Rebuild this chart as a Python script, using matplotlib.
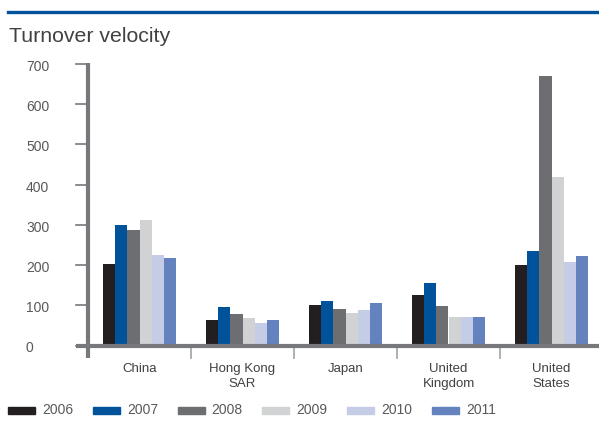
import matplotlib
matplotlib.use("Agg")
import matplotlib.pyplot as plt
import numpy as np
from matplotlib.patches import Rectangle
from matplotlib.lines import Line2D

plt.rcParams['font.family'] = ['Liberation Sans', 'DejaVu Sans']

categories = ["China", "Hong Kong\nSAR", "Japan", "United\nKingdom", "United\nStates"]
years = ["2006", "2007", "2008", "2009", "2010", "2011"]
values = {
    "2006": [203, 63, 100, 125, 200],
    "2007": [300, 95, 110, 155, 235],
    "2008": [288, 78, 91, 98, 670],
    "2009": [313, 68, 81, 71, 420],
    "2010": [226, 56, 88, 71, 207],
    "2011": [218, 63, 105, 71, 222],
}
colors = ["#231f20", "#00529b", "#6d6e71", "#d1d2d4", "#c5cce6", "#6482bd"]
yticks = [0, 100, 200, 300, 400, 500, 600, 700]

W, H = 599, 421
fig = plt.figure(figsize=(W / 100, H / 100), dpi=100)

def fx(px):
    return px / W

def fy(py):
    return 1 - py / H

# plotting area
left, right, bottom, top = 88, 603, 345.5, 64
ax = fig.add_axes([fx(left), fy(bottom), fx(right - left), fy(top) - fy(bottom)])
ax.set_xlim(-0.5, 4.5)
ax.set_ylim(0, 700)
for s in ax.spines.values():
    s.set_visible(False)
ax.set_xticks([])
ax.set_yticks([])
ax.patch.set_alpha(0)

x = np.arange(len(categories))
w = 0.118
for j, (yr, c) in enumerate(zip(years, colors)):
    ax.bar(x + (j - 2.5) * w, values[yr], width=w, color=c, linewidth=0, zorder=2)

axis_col = "#77787b"
# y axis line, extending below baseline
ax.plot([-0.5, -0.5], [-30, 703], color=axis_col, lw=3, clip_on=False, zorder=3,
        solid_capstyle="butt")
# baseline extending left past the axis
ax.plot([-0.62, 4.6], [0, 0], color=axis_col, lw=3, clip_on=False, zorder=3,
        solid_capstyle="butt")
# y tick marks and labels
for t in yticks:
    ax.plot([-0.62, -0.5], [t, t], color=axis_col, lw=1.2, clip_on=False, zorder=3)
    fig.text(fx(26), fy(bottom - t * (bottom - top) / 700 + 3), str(t), ha="left",
             va="center", fontsize=10, color="#58595b")
# category separators
for b in np.arange(0.5, 4.0, 1.0):
    ax.plot([b, b], [0, -30], color="#a7a9ac", lw=1.3, clip_on=False, zorder=1)
# category labels
for i, cat in enumerate(categories):
    ax.text(i, -44, cat, ha="center", va="top", fontsize=9.5, color="#414042",
            linespacing=1.3)

# title and rule
fig.add_artist(Line2D([fx(8), fx(600)], [fy(12.3), fy(12.3)], color="#00529b", lw=2.4))
fig.text(fx(9), fy(37), "Turnover velocity", ha="left", va="center", fontsize=15.3,
         color="#414042")

# legend
for k, (yr, c) in enumerate(zip(years, colors)):
    x0 = 8 + k * 84.8
    fig.add_artist(Rectangle((fx(x0), fy(414)), fx(27), fy(407) - fy(414),
                             color=c, transform=fig.transFigure))
    fig.text(fx(x0 + 34), fy(410.5), yr, ha="left", va="center", fontsize=10,
             color="#58595b")

fig.savefig("out.png", dpi=100)
